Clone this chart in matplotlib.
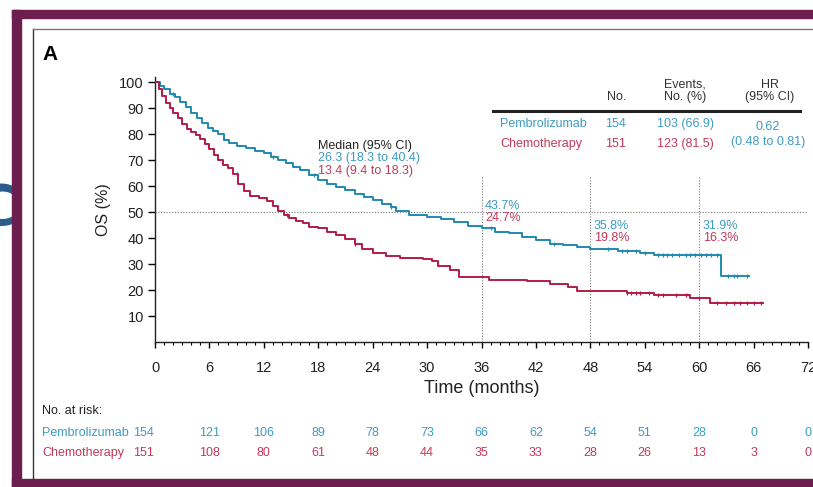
import numpy as np
import matplotlib
matplotlib.use("Agg")
import matplotlib.pyplot as plt
from matplotlib.patches import Rectangle
from matplotlib.transforms import blended_transform_factory

plt.rcParams['font.family'] = ['Liberation Sans', 'DejaVu Sans']

# ── Kaplan-Meier step points ─────────────────────────────────────────────
pembro_t = [0, 0.5, 1.0, 1.6, 2.2, 2.8, 3.4, 4.0, 4.6, 5.2, 5.8, 6.4, 7.0, 7.6, 8.2,
            9.0, 10.0, 11.0, 12.0, 12.8, 13.6, 14.4, 15.2, 16.0, 17.0, 18.0, 19.0,
            20.0, 21.0, 22.0, 23.0, 24.0, 25.0, 26.0, 26.6, 28.0, 30.0, 31.5, 33.0,
            34.5, 36.0, 37.5, 39.0, 40.5, 42.0, 43.5, 45.0, 46.5, 48.0, 51.0, 53.5,
            55.0, 62.4, 65.5]
pembro_s = [100, 98.7, 97.4, 95.5, 94.2, 92.2, 90.3, 88.3, 86.4, 84.4, 82.5, 81.2,
            79.9, 77.9, 76.6, 75.3, 74.7, 73.4, 72.7, 71.4, 70.1, 68.8, 67.5, 66.2,
            64.3, 62.3, 61.0, 59.7, 58.4, 57.1, 55.8, 54.5, 53.2, 51.9, 50.6, 48.7,
            48.1, 47.4, 46.1, 44.8, 43.7, 42.4, 41.8, 40.5, 39.2, 37.9, 37.2, 36.6,
            35.8, 35.1, 34.4, 33.3, 25.5, 25.5]
chemo_t = [0, 0.4, 0.8, 1.2, 1.6, 2.0, 2.5, 3.0, 3.5, 4.0, 4.5, 5.0, 5.5, 6.0, 6.5,
           7.0, 7.5, 8.0, 8.6, 9.2, 9.8, 10.5, 11.5, 12.3, 13.0, 13.6, 14.2, 14.8,
           15.5, 16.3, 17.0, 18.0, 19.0, 20.0, 21.0, 22.0, 22.8, 24.0, 25.5, 27.0,
           29.5, 30.5, 31.2, 32.5, 33.5, 36.8, 41.0, 43.5, 45.5, 46.5, 52.0, 55.0,
           59.0, 61.2, 67.0]
chemo_s = [100, 97.4, 94.7, 92.1, 90.1, 88.1, 86.1, 84.1, 82.1, 80.8, 79.5, 78.1,
           76.1, 74.1, 72.1, 70.1, 68.1, 66.8, 64.8, 60.9, 58.3, 56.3, 55.6, 54.3,
           52.3, 50.3, 49.0, 47.7, 46.4, 45.7, 44.4, 43.7, 42.4, 41.1, 39.8, 37.8,
           35.8, 34.4, 33.1, 32.4, 31.8, 31.1, 29.1, 27.8, 25.1, 24.0, 23.3, 22.3,
           21.0, 19.8, 19.0, 18.2, 17.0, 15.2, 15.2]

# censoring times (tick marks)
pembro_cens = [2.0, 13.0, 17.5, 26.0, 37.0, 44.0, 50.0, 51.5, 52.0, 53.0, 54.0,
               55.5, 56.0, 56.5, 57.0, 57.8, 58.5, 59.0, 59.5, 60.2, 60.8, 61.3,
               62.0, 63.2, 63.8, 64.2, 65.3]
chemo_cens = [9.0, 14.5, 22.0, 52.0, 52.5, 53.0, 53.5, 54.5, 55.5, 56.0, 57.5,
              58.5, 60.0, 62.0, 63.0, 63.8, 64.5, 65.3, 66.0, 66.8]

# landmark annotations
landmark_t = [36, 48, 60]
pembro_lm = ["43.7%", "35.8%", "31.9%"]
chemo_lm = ["24.7%", "19.8%", "16.3%"]

# number at risk
risk_t = [0, 6, 12, 18, 24, 30, 36, 42, 48, 54, 60, 66, 72]
pembro_risk = [154, 121, 106, 89, 78, 73, 66, 62, 54, 51, 28, 0, 0]
chemo_risk = [151, 108, 80, 61, 48, 44, 35, 33, 28, 26, 13, 3, 0]

BLUE = "#1f8ab0"
RED = "#b31b45"
BLUE_TXT = "#3d9cc4"
RED_TXT = "#c23a5a"
PURPLE = "#6c1f4f"
FS = 9

W, H = 813, 487


def fx(px):
    return px / W


def fy(py):
    return 1 - py / H


def step_value(times, surv, t):
    i = np.searchsorted(times, t, side="right") - 1
    return np.asarray(surv)[i]


fig = plt.figure(figsize=(W / 100, H / 100), dpi=100)
fig.patch.set_facecolor("white")

# ── frame ────────────────────────────────────────────────────────────────
fig.text(fx(17), fy(209), "C", ha="right", va="center", fontsize=40, zorder=1,
         fontweight="bold", color="#2a5c8c", family="DejaVu Sans")
fig.add_artist(Rectangle((fx(21), fy(479)), fx(12), 461 / H, transform=fig.transFigure,
                         color="white", zorder=4))
for rect in [(fx(12), fy(487), fx(9), 477 / H),
             (fx(12), fy(18), 1, 8 / H),
             (fx(12), fy(487), 1, 8 / H)]:
    fig.add_artist(Rectangle(rect[:2], rect[2], rect[3], transform=fig.transFigure,
                             color=PURPLE, zorder=5))
fig.add_artist(plt.Line2D([fx(33), fx(33)], [fy(29), fy(479)], transform=fig.transFigure,
                          color="#333333", lw=1.0, zorder=6))
fig.add_artist(plt.Line2D([fx(33), 1], [fy(29), fy(29)], transform=fig.transFigure,
                          color="#777777", lw=1.0, zorder=6))

# ── main axes ────────────────────────────────────────────────────────────
ax = fig.add_axes([fx(155), fy(342), fx(808) - fx(155), fy(77) - fy(342)])
ax.set_xlim(0, 72)
ax.set_ylim(0, 102)
ax.spines["top"].set_visible(False)
ax.spines["right"].set_visible(False)
for s in ("left", "bottom"):
    ax.spines[s].set_linewidth(1.0)
    ax.spines[s].set_color("#222222")

ax.step(pembro_t, pembro_s, where="post", color=BLUE, lw=1.4, zorder=3)
ax.step(chemo_t, chemo_s, where="post", color=RED, lw=1.4, zorder=3)
ax.plot(pembro_cens, [step_value(pembro_t, pembro_s, t) for t in pembro_cens], ls="none",
        marker="|", ms=3.5, mew=0.9, color=BLUE, zorder=4)
ax.plot(chemo_cens, [step_value(chemo_t, chemo_s, t) for t in chemo_cens], ls="none",
        marker="|", ms=3.5, mew=0.9, color=RED, zorder=4)

ax.axhline(50, ls=(0, (1, 1.5)), color="#777777", lw=0.8, zorder=1)
for t in landmark_t:
    ax.plot([t, t], [0, 64], ls=(0, (1, 1.5)), color="#777777", lw=0.8, zorder=1)

for t, pb, ch, dy in zip(landmark_t, pembro_lm, chemo_lm, [0, -7.8, -7.8]):
    ax.text(t + 0.4, 52.3 + dy, pb, color=BLUE_TXT, fontsize=FS, ha="left", va="center")
    ax.text(t + 0.4, 47.7 + dy, ch, color=RED_TXT, fontsize=FS, ha="left", va="center")

ax.set_xticks(np.arange(0, 73, 6))
ax.set_xticks(np.arange(0, 73, 1), minor=True)
ax.set_yticks(np.arange(10, 101, 10))
ax.tick_params(axis="x", which="major", length=4, width=1.0, pad=10, labelsize=10.5,
               labelcolor="#222222")
ax.tick_params(axis="x", which="minor", length=2.5, width=0.8)
ax.tick_params(axis="y", which="major", length=5, width=1.0, pad=3, labelsize=10.5,
               labelcolor="#222222")
ax.set_xlabel("Time (months)", fontsize=13, labelpad=3, color="#222222")
ax.set_ylabel("OS (%)", fontsize=11.5, labelpad=6, color="#222222")

# ── texts in the plot ───────────────────────────────────────────────────
fig.text(fx(42), fy(55), "A", fontsize=15, fontweight="bold", va="center")
fig.text(fx(318), fy(146), "Median (95% CI)", fontsize=FS, color="#222222", va="center")
fig.text(fx(318), fy(158), "26.3 (18.3 to 40.4)", fontsize=FS, color=BLUE_TXT, va="center")
fig.text(fx(318), fy(171), "13.4 (9.4 to 18.3)", fontsize=FS, color=RED_TXT, va="center")

# summary table
fig.text(fx(617), fy(97), "No.", fontsize=FS, ha="center", va="center", color="#333333")
fig.text(fx(685), fy(91), "Events,\nNo. (%)", fontsize=FS, ha="center", va="center",
         color="#333333", linespacing=1.1)
fig.text(fx(770), fy(91), "HR\n(95% CI)", fontsize=FS, ha="center", va="center",
         color="#333333", linespacing=1.1)
fig.add_artist(plt.Line2D([fx(493), fx(800)], [fy(111), fy(111)], transform=fig.transFigure,
                          color="#222222", lw=2.2))
fig.text(fx(500), fy(124), "Pembrolizumab", fontsize=FS, color=BLUE_TXT, va="center")
fig.text(fx(616), fy(124), "154", fontsize=FS, color=BLUE_TXT, va="center", ha="center")
fig.text(fx(685), fy(124), "103 (66.9)", fontsize=FS, color=BLUE_TXT, va="center", ha="center")
fig.text(fx(768), fy(127), "0.62", fontsize=FS, color=BLUE_TXT, va="center", ha="center")
fig.text(fx(500), fy(144), "Chemotherapy", fontsize=FS, color=RED_TXT, va="center")
fig.text(fx(616), fy(144), "151", fontsize=FS, color=RED_TXT, va="center", ha="center")
fig.text(fx(685), fy(144), "123 (81.5)", fontsize=FS, color=RED_TXT, va="center", ha="center")
fig.text(fx(768), fy(142), "(0.48 to 0.81)", fontsize=FS, color=BLUE_TXT, va="center",
         ha="center")

# ── number at risk ───────────────────────────────────────────────────────
tr = blended_transform_factory(ax.transData, fig.transFigure)
fig.text(fx(42), fy(411), "No. at risk:", fontsize=FS, color="#222222", va="center")
fig.text(fx(42), fy(433), "Pembrolizumab", fontsize=FS, color=BLUE_TXT, va="center")
fig.text(fx(42), fy(453), "Chemotherapy", fontsize=FS, color=RED_TXT, va="center")
for t, pb, ch in zip(risk_t, pembro_risk, chemo_risk):
    x = t if t > 0 else -1.3
    ax.text(x, fy(433), str(pb), transform=tr, fontsize=FS, color=BLUE_TXT,
            ha="center", va="center")
    ax.text(x, fy(453), str(ch), transform=tr, fontsize=FS, color=RED_TXT,
            ha="center", va="center")

fig.savefig("out.png", dpi=100)
